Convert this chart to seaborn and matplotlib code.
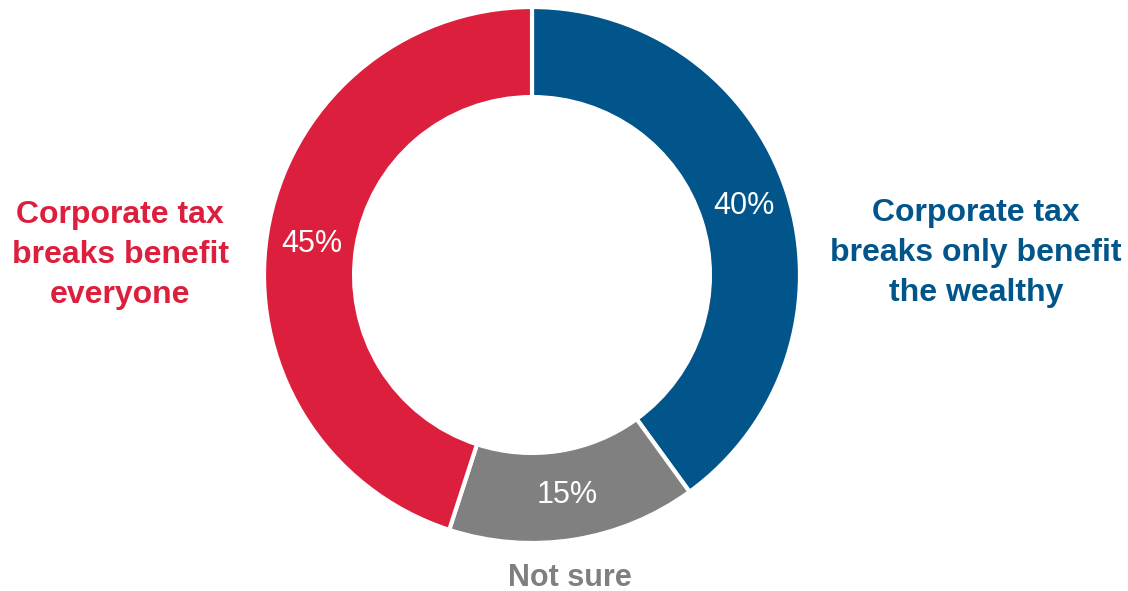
import numpy as np
import seaborn as sns
import matplotlib.pyplot as plt

# Survey shares, clockwise from 12 o'clock
categories = ["Corporate tax\nbreaks only benefit\nthe wealthy", "Not sure",
              "Corporate tax\nbreaks benefit\neveryone"]
shares = [40, 15, 45]
colors = ["#02558B", "#808080", "#DC1F3D"]

sns.set_style("white")
plt.rcParams['font.family'] = ['Liberation Sans', 'DejaVu Sans']

fig = plt.figure(figsize=(11.28, 5.91), dpi=100)
ax = fig.add_axes([0, 0, 1, 1])

wedges, texts, autotexts = ax.pie(
    shares, colors=colors, startangle=90, counterclock=False,
    radius=1.0, autopct=lambda p: f"{p:.0f}%", pctdistance=0.83,
    wedgeprops=dict(width=0.336, edgecolor="white", linewidth=3),
    textprops=dict(color="white", fontsize=22))

# the 45% label sits higher on the ring than the slice middle
autotexts[2].set_position((0.83 * np.cos(np.radians(172)), 0.83 * np.sin(np.radians(172))))

# outside category labels
ax.text(1.657, 0.082, categories[0], color=colors[0], fontsize=23, fontweight="bold",
        ha="center", va="center", linespacing=1.42)
ax.text(0.142, -1.131, categories[1], color="#7F7F7F", fontsize=22, fontweight="bold",
        ha="center", va="center")
ax.text(-1.537, 0.075, categories[2], color=colors[2], fontsize=23, fontweight="bold",
        ha="center", va="center", linespacing=1.42)

# pixel mapping: centre at (532, 275), radius 268 px
ax.set_xlim(-532 / 268, (1128 - 532) / 268)
ax.set_ylim(-(591 - 275) / 268, 275 / 268)
ax.set_aspect("auto")
ax.axis("off")

fig.savefig("out.png", dpi=100, facecolor="white")
